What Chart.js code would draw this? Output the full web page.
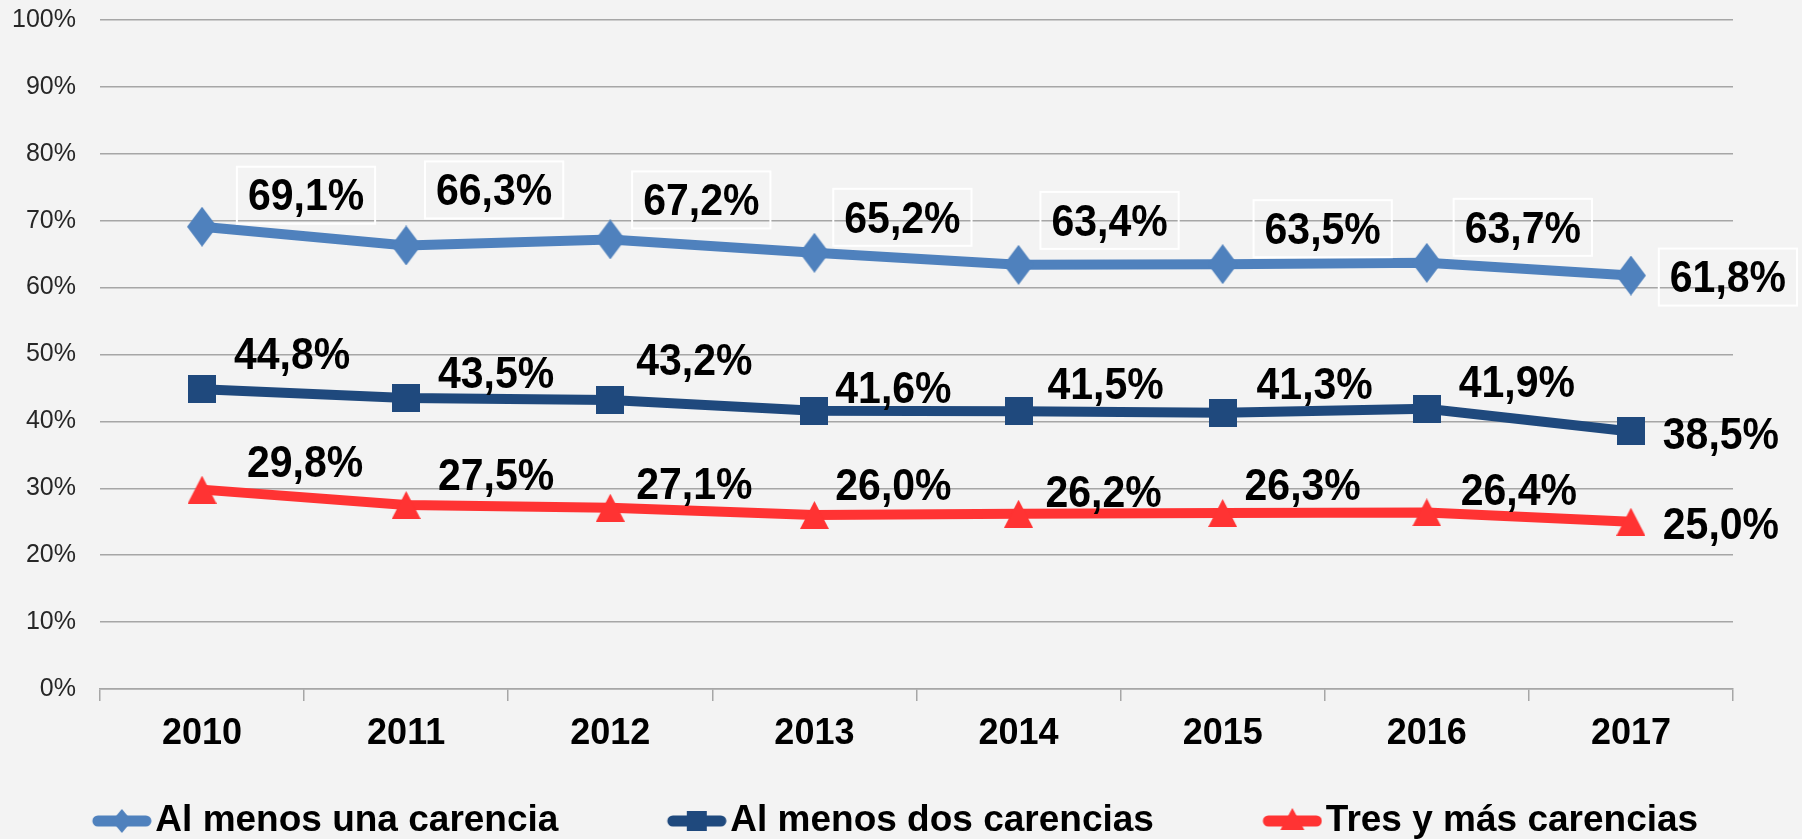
<!DOCTYPE html>
<html>
<head>
<meta charset="utf-8">
<script src="https://cdn.jsdelivr.net/npm/chart.js@4.4.1/dist/chart.umd.min.js"></script>
<style>
  html, body { margin: 0; padding: 0; background: #f3f3f3; overflow: hidden; }
  #wrap { width: 1802px; height: 839px; }
</style>
</head>
<body>
<div id="wrap"><canvas id="chart" width="1802" height="839"></canvas></div>
<script>
// data
const years = ['2010', '2011', '2012', '2013', '2014', '2015', '2016', '2017'];
const seriesNames = ['Al menos una carencia', 'Al menos dos carencias', 'Tres y más carencias'];
const unaCarencia = [69.1, 66.3, 67.2, 65.2, 63.4, 63.5, 63.7, 61.8];
const dosCarencias = [44.8, 43.5, 43.2, 41.6, 41.5, 41.3, 41.9, 38.5];
const tresCarencias = [29.8, 27.5, 27.1, 26.0, 26.2, 26.3, 26.4, 25.0];
const yTickLabels = ['0%', '10%', '20%', '30%', '40%', '50%', '60%', '70%', '80%', '90%', '100%'];

// label placement relative to each point (px), like the hand-moved Excel labels
const labelNudges = [
  [[104, -32], [88, -56], [91, -40], [88, -36], [91, -45], [100, -36], [96, -36], [97, 1]],
  [[90, -36], [90, -26], [84, -41], [79, -23], [87, -28], [92, -29], [90, -27], [90, 2]],
  [[103, -28], [90, -31], [84, -24], [79, -31], [85, -22], [80, -29], [92, -23], [90, 2]]
];

const FONT = 'Arial, "Liberation Sans", sans-serif';
const colors = ['#4f81bd', '#1f497d', '#ff3333'];

const fmt = v => v.toFixed(1).replace('.', ',') + '%';

// marker pictures (Excel diamonds are taller than wide)
function markerImage(i) {
  const sizes = [[30, 40], [28, 28], [29, 28]];
  const [w, h] = sizes[i];
  const c = document.createElement('canvas');
  c.width = w; c.height = h;
  const g = c.getContext('2d');
  g.fillStyle = colors[i];
  g.beginPath();
  if (i === 0) { g.moveTo(w / 2, 0); g.lineTo(w, h / 2); g.lineTo(w / 2, h); g.lineTo(0, h / 2); }
  else if (i === 1) { g.rect(0, 0, w, h); }
  else { g.moveTo(w / 2, 0); g.lineTo(w, h); g.lineTo(0, h); }
  g.closePath(); g.fill();
  return c;
}
const markerImages = [0, 1, 2].map(markerImage);

// small line+marker pictures for the legend
const LEG_PAD = 62;
function legendIcon(i) {
  const c = document.createElement('canvas');
  c.width = 60 + LEG_PAD; c.height = 30;
  const g = c.getContext('2d');
  g.strokeStyle = colors[i]; g.fillStyle = colors[i];
  g.lineWidth = 11; g.lineCap = 'round';
  g.beginPath(); g.moveTo(LEG_PAD + 6, 15); g.lineTo(LEG_PAD + 54, 15); g.stroke();
  const cx = LEG_PAD + 30, cy = 15;
  g.beginPath();
  if (i === 0) { g.moveTo(cx, cy - 12); g.lineTo(cx + 10, cy); g.lineTo(cx, cy + 12); g.lineTo(cx - 10, cy); }
  else if (i === 1) { g.rect(cx - 10, cy - 10, 20, 20); }
  else { g.moveTo(cx, cy - 13); g.lineTo(cx + 12, cy + 9); g.lineTo(cx - 12, cy + 9); }
  g.closePath(); g.fill();
  return c;
}
const legendIcons = [0, 1, 2].map(legendIcon);

const LABEL_SIZE = 41;
const valueLabels = {
  id: 'valueLabels',
  afterDatasetsDraw(chart) {
    const ctx = chart.ctx;
    chart.data.datasets.forEach((ds, di) => {
      const meta = chart.getDatasetMeta(di);
      meta.data.forEach((pt, i) => {
        const [dx, dy] = labelNudges[di][i];
        const x = pt.x + dx, y = pt.y + dy;
        const txt = fmt(ds.data[i]);
        ctx.save();
        ctx.font = 'bold ' + LABEL_SIZE + 'px ' + FONT;
        const tw = ctx.measureText(txt).width;
        if (di === 0) {
          const w = tw + 22;
          ctx.strokeStyle = '#ffffff';
          ctx.lineWidth = 2;
          ctx.strokeRect(x - w / 2, y - 28, w, 57);
        }
        ctx.translate(x, y);
        ctx.scale(1, 1.07);
        ctx.textAlign = 'center';
        ctx.textBaseline = 'alphabetic';
        ctx.fillStyle = '#000000';
        ctx.fillText(txt, 0, 0.358 * LABEL_SIZE);
        ctx.restore();
      });
    });
  }
};

const seriesData = [unaCarencia, dosCarencias, tresCarencias];

new Chart(document.getElementById('chart').getContext('2d'), {
  type: 'line',
  data: {
    labels: years,
    datasets: seriesData.map((d, i) => ({
      label: seriesNames[i],
      data: d,
      borderColor: colors[i],
      backgroundColor: colors[i],
      borderWidth: 10,
      tension: 0,
      pointStyle: markerImages[i],
      pointRadius: 14,
      pointBorderWidth: 0,
      order: 3 - i
    }))
  },
  options: {
    responsive: false,
    animation: false,
    devicePixelRatio: 1,
    layout: { autoPadding: false, padding: { top: 20, left: 10, right: 69, bottom: -10.5 } },
    plugins: {
      tooltip: { enabled: false },
      legend: {
        position: 'bottom',
        labels: {
          usePointStyle: true,
          pointStyleWidth: 30 + LEG_PAD,
          padding: 10,
          color: '#000000',
          font: { family: FONT, size: 37, weight: 'bold' },
          generateLabels(chart) {
            return chart.data.datasets.map((ds, i) => ({
              text: seriesNames[i] + (i < 2 ? '     ' : ''),
              pointStyle: legendIcons[i],
              fillStyle: colors[i],
              strokeStyle: colors[i],
              lineWidth: 0,
              fontColor: '#000000',
              hidden: !chart.isDatasetVisible(i),
              datasetIndex: i
            }));
          }
        }
      }
    },
    scales: {
      x: {
        offset: true,
        grid: { offset: true, drawOnChartArea: false, drawTicks: true, tickLength: 12, color: '#a6a6a6', lineWidth: 1.5 },
        border: { display: true, color: '#a6a6a6', width: 1.5 },
        ticks: { color: '#000000', font: { family: FONT, size: 36, weight: 'bold' }, padding: 11, maxRotation: 0 },
        afterFit(scale) { scale.height = 103.5; }
      },
      y: {
        min: 0,
        max: 100,
        grid: { color: '#a6a6a6', lineWidth: 1.5, drawTicks: true, tickLength: 22, tickColor: 'rgba(0,0,0,0)' },
        border: { display: false },
        ticks: {
          stepSize: 10,
          color: '#262626',
          padding: 2,
          font: { family: FONT, size: 25 },
          callback: (v, i) => yTickLabels[i]
        }
      }
    }
  },
  plugins: [valueLabels]
});
</script>
</body>
</html>
